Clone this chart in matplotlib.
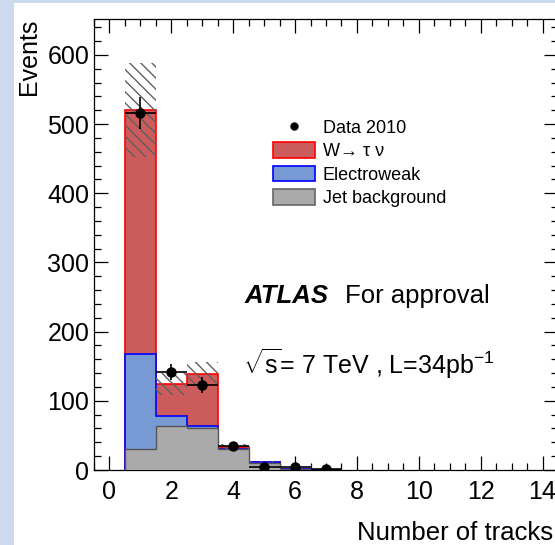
import numpy as np
import matplotlib as mpl
from matplotlib import pyplot as plt
from matplotlib.patches import Patch, Rectangle
from matplotlib.lines import Line2D

mpl.rcParams['font.family'] = ['Liberation Sans', 'DejaVu Sans']
mpl.rcParams['mathtext.fontset'] = 'custom'
mpl.rcParams['mathtext.rm'] = 'Liberation Sans'
mpl.rcParams['mathtext.it'] = 'Liberation Sans:italic'
mpl.rcParams['hatch.linewidth'] = 1.0

# track multiplicity, one bin per integer
ntracks = [1, 2, 3, 4, 5, 6, 7]
jet_bkg = [30, 64, 61, 30, 10, 1, 0]
electroweak = [138, 14, 3, 1, 1, 0, 0]
w_taunu = [352, 46, 75, 2, 1, 0, 0]
syst_err = [68, 16, 17, 4, 1, 0, 0]
data_2010 = [516, 142, 123, 35, 5, 5, 1]

c_red = '#cc5c5c'
c_blue = '#7799d4'
c_gray = '#aaaaaa'

x = np.array(ntracks)
edges = np.append(x - 0.5, x[-1] + 0.5)
jet = np.array(jet_bkg, float)
ew_stack = jet + np.array(electroweak)
total = ew_stack + np.array(w_taunu)
err = np.array(syst_err, float)
data = np.array(data_2010, float)

fig = plt.figure(figsize=(5.55, 5.45), dpi=100, facecolor='#cdd9ef')
W, H = 555, 545
fig.patches.append(Rectangle((14 / W, 0), 1, (H - 3) / H, transform=fig.transFigure,
                             facecolor='white', edgecolor='none', zorder=-1))
ax = fig.add_axes([94 / W, 75 / H, (558 - 94) / W, (470 - 19) / H])

# stacked histograms drawn as cumulative outlines
ax.stairs(total, edges, baseline=0, fill=True, facecolor=c_red, edgecolor='red', lw=1.2, zorder=2)
ax.stairs(ew_stack, edges, baseline=0, fill=True, facecolor=c_blue, edgecolor='blue', lw=1.2, zorder=3)
ax.stairs(jet, edges, baseline=0, fill=True, facecolor=c_gray, edgecolor='#555555', lw=1.0, zorder=4)

# systematic band
ax.bar(x, 2 * err, bottom=total - err, width=1.0, facecolor='none', edgecolor='#606060',
       linewidth=0, hatch='\\\\\\', zorder=5)

ax.errorbar(x, data, yerr=np.sqrt(data), xerr=0.5, fmt='o', color='black', ms=6.5,
            elinewidth=1.2, capsize=0, zorder=6)

ax.set_xlim(-0.5, 14.5)
ax.set_ylim(0, 652)
ax.set_xticks(np.arange(0, 15, 2))
ax.set_xticks(np.arange(-0.5, 14.6, 0.5), minor=True)
ax.set_yticks(np.arange(0, 601, 100))
ax.set_yticks(np.arange(0, 651, 20), minor=True)
ax.tick_params(which='both', direction='in', top=True, right=True, width=0.9, labelsize=18)
ax.tick_params(which='major', length=10)
ax.tick_params(which='minor', length=5)
ax.tick_params(axis='x', pad=7)
ax.tick_params(axis='y', pad=3.5)
for s in ax.spines.values():
    s.set_linewidth(0.9)

ax.set_ylabel('Events', fontsize=18, loc='top', labelpad=4.5)
fig.text(553 / W, 1 - 540 / H, 'Number of tracks', fontsize=18.5, ha='right', va='baseline')

handles = [Line2D([], [], marker='o', color='black', ls='none', ms=5),
           Patch(facecolor=c_red, edgecolor='red', lw=1.2),
           Patch(facecolor=c_blue, edgecolor='blue', lw=1.2),
           Patch(facecolor=c_gray, edgecolor='#666666', lw=1.2)]
labels = ['Data 2010', 'W\u2192 \u03c4 \u03bd', 'Electroweak', 'Jet background']
fig.legend(handles, labels, loc='upper left', bbox_to_anchor=(273 / W, 1 - 119 / H),
           frameon=False, fontsize=13, handlelength=2.3, handleheight=0.95,
           handletextpad=0.45, labelspacing=0.3, borderpad=0, borderaxespad=0)

fig.text(245 / W, 1 - 303 / H, 'ATLAS', fontsize=18.5, fontweight='bold', fontstyle='italic')
fig.text(345 / W, 1 - 303 / H, 'For approval', fontsize=18.5)
fig.text(243 / W, 1 - 374 / H, r'$\sqrt{\mathrm{s}}$= 7 TeV , L=34pb$^{-1}$', fontsize=18)

fig.savefig('out.png', dpi=100, facecolor=fig.get_facecolor())
